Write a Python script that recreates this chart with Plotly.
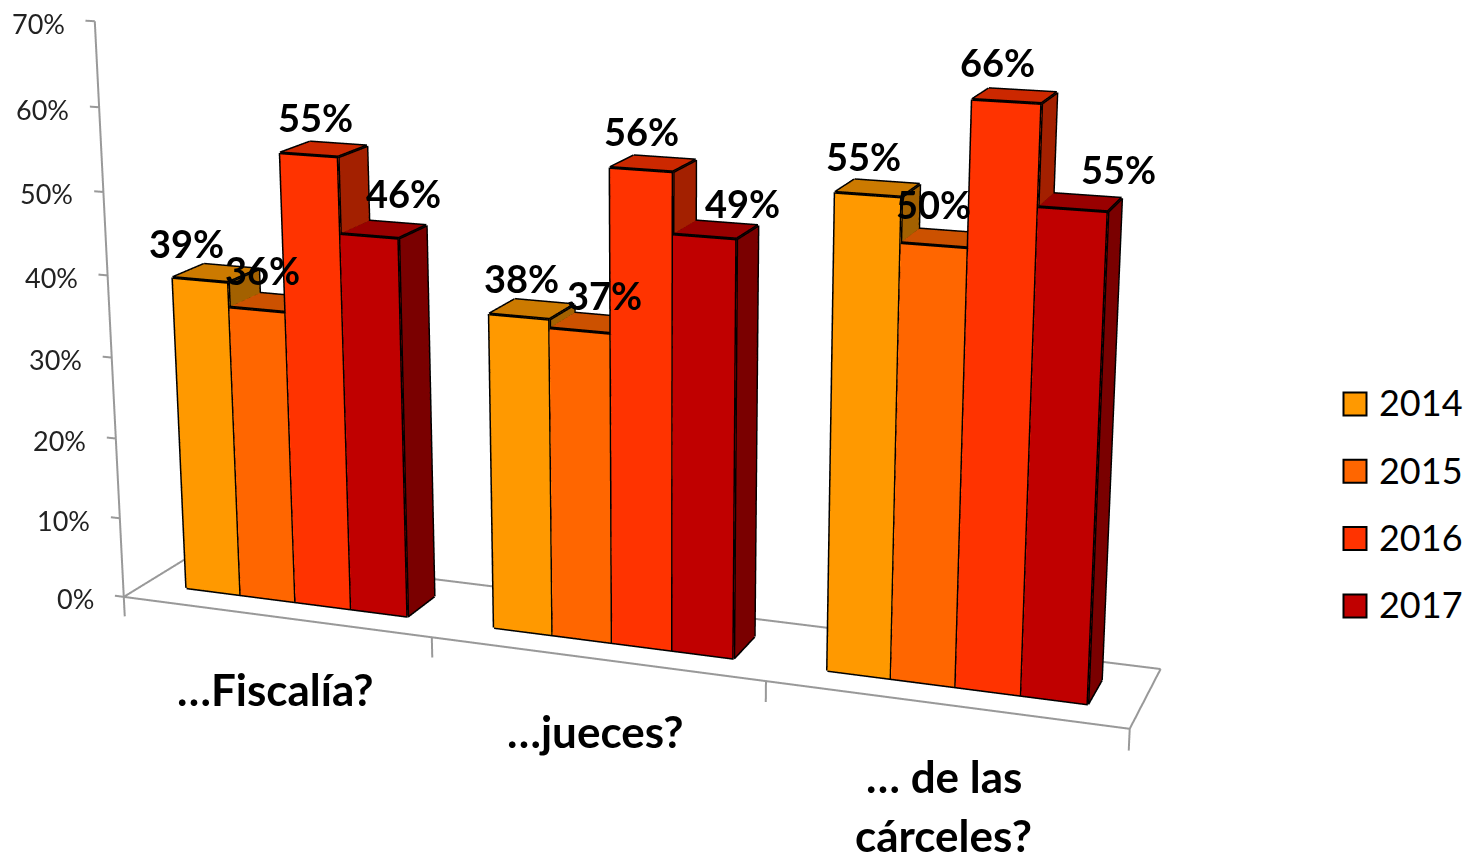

import math
import plotly.graph_objects as go

categories = ["…Fiscalía?", "…jueces?", "… de las<br>cárceles?"]
years = [2014, 2015, 2016, 2017]
v2014 = [39, 38, 55]
v2015 = [36, 37, 50]
v2016 = [55, 56, 66]
v2017 = [46, 49, 55]
series = [v2014, v2015, v2016, v2017]
ticks = [0, 10, 20, 30, 40, 50, 60, 70]

base = [(255, 153, 0), (255, 102, 0), (255, 51, 0), (192, 0, 0)]

# 3D view: Excel-like long-lens look obtained with a small shear of the scene
XR, YR, ZR = (-3, 7), (-20, 21), (-20, 90)
ex, ey, ez = -0.50402, -1.57670, -0.18761
cx, cy, cz = -0.12319, -0.16202, -0.05308
roll = -0.11664
sx, sy, sz = 0.40319, 0.04601, 0.01055
f0, f1, v0, v1 = 0.13545, 0.86228, 0.29201, 0.69532
k, m, a_, c3, e3 = 0.19755, 6.52833, -0.00419, -0.03514, -3.59441


def hexc(c, f=1.0):
    return "rgb(%d,%d,%d)" % tuple(int(a * f) for a in c)


def sh(X, Y, Z):
    return X + k * Y + a_ * Z, Y + c3 * Z + e3 * X, Z + m * Y


data = []
bw = (f1 - f0) / 4
lx, ly, lz = [], [], []
for s, vals in enumerate(series):
    for g, val in enumerate(vals):
        x0 = g + f0 + s * bw
        x1 = x0 + bw
        c8 = [sh(a, b, c) for a, b, c in [(x0, v0, 0), (x1, v0, 0), (x1, v1, 0), (x0, v1, 0),
                                          (x0, v0, val), (x1, v0, val), (x1, v1, val), (x0, v1, val)]]
        xs, ys, zs = [list(t) for t in zip(*c8)]
        i = [0, 0, 1, 1, 4, 4, 3, 3, 0, 0, 2, 2]
        j = [1, 5, 2, 6, 5, 6, 0, 4, 3, 7, 3, 7]
        kk = [5, 4, 6, 5, 6, 7, 4, 7, 7, 4, 7, 6]
        fc = [hexc(base[s])] * 2 + [hexc(base[s], .64)] * 2 + [hexc(base[s], .8)] * 2 + [hexc(base[s])] * 6
        data.append(go.Mesh3d(x=xs, y=ys, z=zs, i=i, j=j, k=kk, facecolor=fc, flatshading=True,
                              lighting=dict(ambient=1, diffuse=0, specular=0, roughness=1, fresnel=0),
                              hoverinfo="skip", showlegend=False))
        for a, b in [(0, 1), (1, 2), (4, 5), (5, 6), (6, 7), (7, 4), (0, 4), (1, 5), (2, 6), (3, 7), (0, 3)]:
            lx += [xs[a], xs[b], None]
            ly += [ys[a], ys[b], None]
            lz += [zs[a], zs[b], None]
data.append(go.Scatter3d(x=lx, y=ly, z=lz, mode="lines", line=dict(color="black", width=6),
                         hoverinfo="skip", showlegend=False))

ax, ay2, az = [], [], []


def seg(a, b):
    a = sh(*a)
    b = sh(*b)
    ax.extend([a[0], b[0], None])
    ay2.extend([a[1], b[1], None])
    az.extend([a[2], b[2], None])


seg((0, 0, 0), (3, 0, 0))
seg((3, 0, 0), (3, 1, 0))
seg((3, 1, 0), (0, 1, 0))
seg((0, 1, 0), (0, 0, 0))
seg((0, 0, 0), (0, 0, 70))
for t in ticks:
    seg((0, 0, t), (-.03, 0, t))
for g in range(4):
    seg((g, 0, 0), (g, 0, -2.5))
data.append(go.Scatter3d(x=ax, y=ay2, z=az, mode="lines", line=dict(color="#999999", width=4),
                         hoverinfo="skip", showlegend=False))

ann = []
for t in ticks:
    q = sh(0, 0, t)
    ann.append(dict(x=q[0], y=q[1], z=q[2], text=f"{t}%", showarrow=False, xanchor="right", yanchor="middle",
                    xshift=-28, yshift=-2, font=dict(family="Lato", size=27, color="#222222")))
dx = [[-14, 5, 7, 34], [2, 25, 0, 38], [-5, 0, -9, 46]]
dy = [[37, 40, 38, 43], [39, 36, 39, 34], [39, 41, 39, 40]]
for s, vals in enumerate(series):
    for g, val in enumerate(vals):
        q = sh(g + f0 + (s + .5) * bw, v0, val)
        ann.append(dict(x=q[0], y=q[1], z=q[2], text=f"{val}%", showarrow=False, xanchor="center", yanchor="middle",
                        xshift=dx[g][s], yshift=dy[g][s], font=dict(family="Lato", size=38, color="black", weight=700)))
for g, cat in enumerate(categories):
    for n, line in enumerate(cat.split("<br>")):
        q = sh(g + .5, 0, 0)
        ann.append(dict(x=q[0], y=q[1], z=q[2], text=line, showarrow=False, xanchor="center", yanchor="middle",
                        yshift=-72 - 59 * n, font=dict(family="Lato", size=44, color="black", weight=700)))

data.append(go.Scatter(x=[37.4] * 4, y=years, mode="markers",
                       marker=dict(symbol="square", size=23, color=[hexc(c) for c in base],
                                   line=dict(color="black", width=2)),
                       hoverinfo="skip", showlegend=False, xaxis="x", yaxis="y"))
data.append(go.Scatter(x=[61.4] * 4, y=[y + .05 for y in years], mode="text", text=[str(y) for y in years],
                       textposition="middle right", textfont=dict(family="Lato", size=36, color="black"),
                       hoverinfo="skip", showlegend=False, xaxis="x", yaxis="y"))

fig = go.Figure(data)
fig.update_layout(
    width=1464, height=854, autosize=False, margin=dict(l=0, r=0, t=0, b=0),
    paper_bgcolor="white", plot_bgcolor="rgba(0,0,0,0)", showlegend=False,
    xaxis=dict(domain=[.9, 1], range=[0, 146.4], visible=False),
    yaxis=dict(domain=[.2511, .5663], range=[2017.5, 2013.5], visible=False),
    scene=dict(
        domain=dict(x=[0, .9], y=[0, 1]), bgcolor="white", dragmode="orbit",
        xaxis=dict(visible=False, range=list(XR)),
        yaxis=dict(visible=False, range=list(YR)),
        zaxis=dict(visible=False, range=list(ZR)),
        aspectmode="manual",
        aspectratio=dict(x=sx * (XR[1] - XR[0]), y=sy * (YR[1] - YR[0]), z=sz * (ZR[1] - ZR[0])),
        camera=dict(eye=dict(x=ex, y=ey, z=ez), center=dict(x=cx, y=cy, z=cz),
                    up=dict(x=math.sin(roll), y=0, z=math.cos(roll)),
                    projection=dict(type="perspective")),
        annotations=ann))
fig.write_html("out.html", config=dict(displayModeBar=False),
               post_script="document.body.style.margin='0';document.body.style.overflow='hidden';")
